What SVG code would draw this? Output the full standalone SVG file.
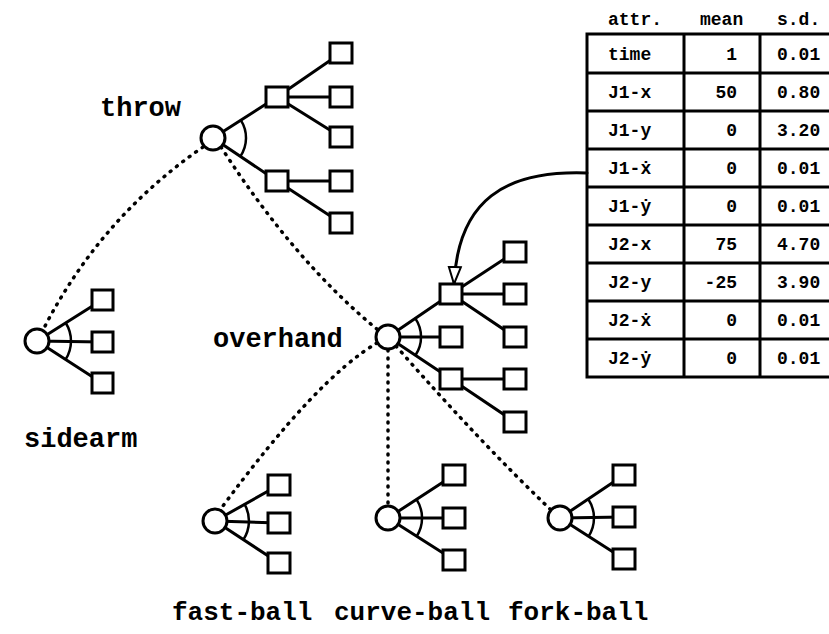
<svg xmlns="http://www.w3.org/2000/svg" width="829" height="634" viewBox="0 0 829 634">
<style>
.ln{stroke:#000;stroke-width:3;fill:none;stroke-linecap:round}
.arc{stroke:#000;stroke-width:2.5;fill:none}
.dot{stroke:#000;stroke-width:3.5;fill:none;stroke-dasharray:1 7;stroke-linecap:round}
.sq{fill:#fff;stroke:#000;stroke-width:3}
.ci{fill:#fff;stroke:#000;stroke-width:3}
.lbl{font-family:"Liberation Mono","Courier New",monospace;font-size:27px;font-weight:bold;fill:#000}
.bl{font-size:26px}
.tt{font-family:"Liberation Mono","DejaVu Sans Mono",monospace;font-size:18px;font-weight:bold;fill:#000}
.grid{stroke:#000;stroke-width:3;fill:none}
</style>
<defs>
<marker id="ah" markerUnits="userSpaceOnUse" markerWidth="20" markerHeight="20" refX="18" refY="7" orient="auto" viewBox="0 0 20 14">
<path d="M1,1 L18,7 L1,13 Z" fill="#fff" stroke="#000" stroke-width="2"/>
</marker>
</defs>
<rect width="829" height="634" fill="#fff"/>

<g id="connectors">
<path class="dot" d="M203,147 Q100,218 43,330"/>
<path class="dot" d="M221,147 Q295,262 378,330"/>
<path class="dot" d="M377,343 Q317,378 220,510"/>
<path class="dot" d="M388,350 L388,506"/>
<path class="dot" d="M396,346 Q478,440 551,510"/>
<path class="ln" d="M213,138 L277,97 M213,138 L277,181"/>
<path class="ln" d="M277,97 L341,53 M277,97 L341,97 M277,97 L341,137"/>
<path class="ln" d="M277,181 L341,181 M277,181 L341,223"/>
<path class="arc" d="M240.8,120.2 A33,33 0 0 1 240.4,156.4"/>
<path class="ln" d="M388,337 L451,294 M388,337 L451,337 M388,337 L451,379"/>
<path class="ln" d="M451,294 L515,252 M451,294 L515,294 M451,294 L515,337"/>
<path class="ln" d="M451,379 L515,379 M451,379 L515,422"/>
<path class="arc" d="M415.3,318.4 A33,33 0 0 1 415.5,355.3"/>
<path class="ln" d="M37,341 L102,300 M37,341 L102,342 M37,341 L102,383"/>
<path class="arc" d="M65.8,323 A34,34 0 0 1 65.6,359.4"/>
<path class="ln" d="M215,521 L279,485 M215,521 L279,523 M215,521 L279,563"/>
<path class="arc" d="M244.6,504.3 A34,34 0 0 1 243.4,539.6"/>
<path class="ln" d="M388,518 L454,475 M388,518 L454,518 M388,518 L454,560"/>
<path class="arc" d="M416.5,499.4 A34,34 0 0 1 416.7,536.3"/>
<path class="ln" d="M560,518 L624,475 M560,518 L624,517 M560,518 L624,559"/>
<path class="arc" d="M588.2,499 A34,34 0 0 1 588.6,536.3"/>
<path class="ln" d="M587,173 C505,170 458,200 454,284" marker-end="url(#ah)"/>
</g>

<g id="throw">
<circle class="ci" cx="213" cy="138" r="12"/>
<text class="lbl" x="100" y="116">throw</text>
</g>
<g id="throw-a"><rect class="sq" x="266" y="87" width="22" height="20"/></g>
<g id="throw-b"><rect class="sq" x="266" y="171" width="22" height="20"/></g>
<g id="throw-leaves">
<rect class="sq" x="330" y="43" width="22" height="20"/>
<rect class="sq" x="330" y="87" width="22" height="20"/>
<rect class="sq" x="330" y="127" width="22" height="20"/>
<rect class="sq" x="330" y="171" width="22" height="20"/>
<rect class="sq" x="330" y="213" width="22" height="20"/>
</g>

<g id="overhand">
<circle class="ci" cx="388" cy="337" r="12"/>
<text class="lbl" x="213" y="347">overhand</text>
</g>
<g id="overhand-c"><rect class="sq" x="440" y="284" width="22" height="20"/></g>
<g id="overhand-m"><rect class="sq" x="440" y="327" width="22" height="20"/></g>
<g id="overhand-d"><rect class="sq" x="440" y="369" width="22" height="20"/></g>
<g id="overhand-leaves">
<rect class="sq" x="504" y="242" width="22" height="20"/>
<rect class="sq" x="504" y="284" width="22" height="20"/>
<rect class="sq" x="504" y="327" width="22" height="20"/>
<rect class="sq" x="504" y="369" width="22" height="20"/>
<rect class="sq" x="504" y="412" width="22" height="20"/>
</g>

<g id="sidearm">
<circle class="ci" cx="37" cy="341" r="12"/>
<rect class="sq" x="92" y="290" width="21" height="20"/>
<rect class="sq" x="92" y="332" width="21" height="20"/>
<rect class="sq" x="92" y="373" width="21" height="20"/>
<text class="lbl" x="24" y="447">sidearm</text>
</g>

<g id="fast-ball">
<circle class="ci" cx="215" cy="521" r="12"/>
<rect class="sq" x="268" y="475" width="22" height="20"/>
<rect class="sq" x="268" y="513" width="22" height="20"/>
<rect class="sq" x="268" y="553" width="22" height="20"/>
<text class="lbl bl" x="172" y="620">fast-ball</text>
</g>

<g id="curve-ball">
<circle class="ci" cx="388" cy="518" r="12"/>
<rect class="sq" x="443" y="465" width="22" height="20"/>
<rect class="sq" x="443" y="508" width="22" height="20"/>
<rect class="sq" x="443" y="550" width="22" height="20"/>
<text class="lbl bl" x="334" y="620">curve-ball</text>
</g>

<g id="fork-ball">
<circle class="ci" cx="560" cy="518" r="12"/>
<rect class="sq" x="613" y="465" width="22" height="20"/>
<rect class="sq" x="613" y="507" width="22" height="20"/>
<rect class="sq" x="613" y="549" width="22" height="20"/>
<text class="lbl bl" x="508" y="620">fork-ball</text>
</g>

<g id="table">
<text class="tt" x="608" y="25">attr.</text>
<text class="tt" x="700" y="25">mean</text>
<text class="tt" x="777" y="25">s.d.</text>
<rect class="grid" x="587" y="34" width="250" height="343"/>
<path class="grid" d="M684,34 V377 M760,34 V377 M587,73 H837 M587,111 H837 M587,149 H837 M587,187 H837 M587,225 H837 M587,263 H837 M587,301 H837 M587,339 H837"/>
<text class="tt" x="608" y="60">time</text>
<text class="tt" x="608" y="98">J1-x</text>
<text class="tt" x="608" y="136">J1-y</text>
<text class="tt" x="608" y="174">J1-ẋ</text>
<text class="tt" x="608" y="212">J1-ẏ</text>
<text class="tt" x="608" y="250">J2-x</text>
<text class="tt" x="608" y="288">J2-y</text>
<text class="tt" x="608" y="326">J2-ẋ</text>
<text class="tt" x="608" y="364">J2-ẏ</text>
<g text-anchor="end">
<text class="tt" x="737" y="60">1</text>
<text class="tt" x="737" y="98">50</text>
<text class="tt" x="737" y="136">0</text>
<text class="tt" x="737" y="174">0</text>
<text class="tt" x="737" y="212">0</text>
<text class="tt" x="737" y="250">75</text>
<text class="tt" x="737" y="288">-25</text>
<text class="tt" x="737" y="326">0</text>
<text class="tt" x="737" y="364">0</text>
</g>
<text class="tt" x="777" y="60">0.01</text>
<text class="tt" x="777" y="98">0.80</text>
<text class="tt" x="777" y="136">3.20</text>
<text class="tt" x="777" y="174">0.01</text>
<text class="tt" x="777" y="212">0.01</text>
<text class="tt" x="777" y="250">4.70</text>
<text class="tt" x="777" y="288">3.90</text>
<text class="tt" x="777" y="326">0.01</text>
<text class="tt" x="777" y="364">0.01</text>
</g>
</svg>
